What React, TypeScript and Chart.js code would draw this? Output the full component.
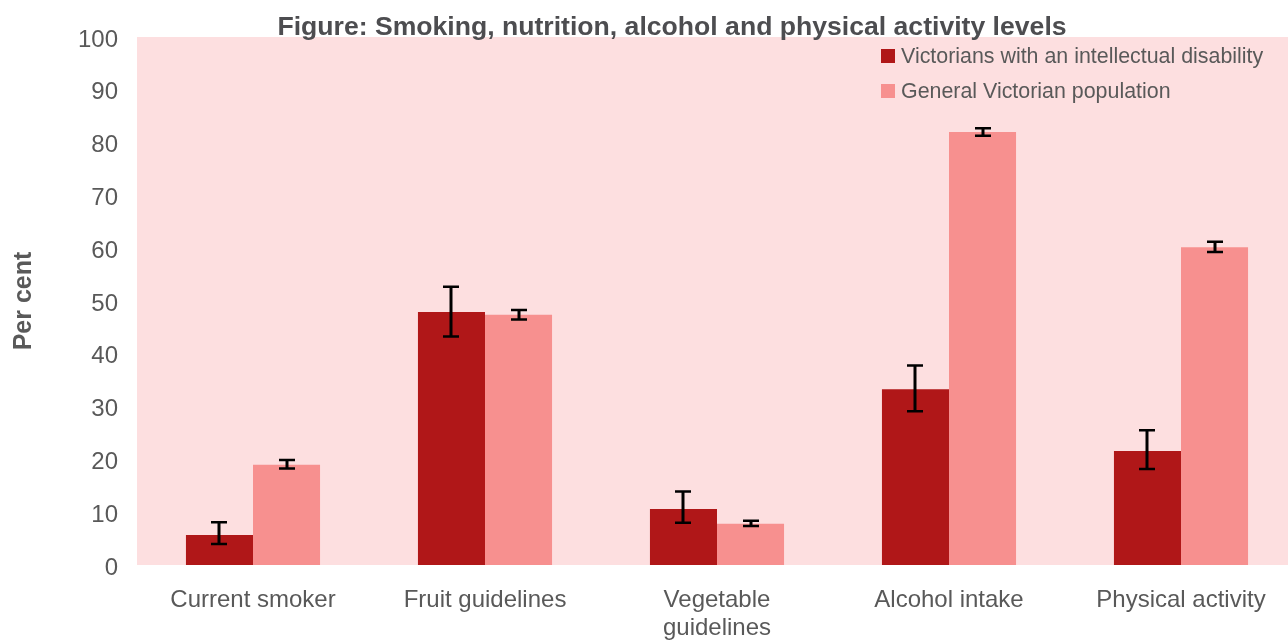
import React, { useEffect, useRef } from "react";
import { Chart, registerables } from "chart.js";

Chart.register(...registerables);

// ---- data ----
const chartTitle = "Figure: Smoking, nutrition, alcohol and physical activity levels";
const yAxisTitle = "Per cent";
const categories: (string | string[])[] = [
  "Current smoker",
  "Fruit guidelines",
  ["Vegetable", "guidelines"],
  "Alcohol intake",
  "Physical activity",
];
const seriesNames = [
  "Victorians with an intellectual disability",
  "General Victorian population",
];
const disabilityValues = [5.7, 47.9, 10.6, 33.3, 21.6];
const generalValues = [19.0, 47.4, 7.8, 82.0, 60.2];
const disabilityLow = [4.0, 43.3, 8.0, 29.1, 18.2];
const disabilityHigh = [8.1, 52.7, 13.9, 37.8, 25.5];
const generalLow = [18.3, 46.5, 7.4, 81.3, 59.3];
const generalHigh = [19.9, 48.3, 8.4, 82.7, 61.2];
const yMin = 0;
const yMax = 100;
const yStep = 10;

// ---- styles ----
const FONT = "'Liberation Sans', Arial, Helvetica, sans-serif";
const TEXT = "#595959";
const TITLE_TEXT = "#4D4D50";
const DARK = "#B01718";
const LIGHT = "#F7908F";
const PLOT_BG = "#FDDFE0";

const plotBgPlugin = {
  id: "plotBg",
  beforeDraw(chart: any) {
    const { ctx, chartArea } = chart;
    ctx.save();
    ctx.fillStyle = PLOT_BG;
    ctx.fillRect(chartArea.left, chartArea.top, chart.width - chartArea.left, chartArea.bottom - chartArea.top);
    ctx.restore();
  },
};

const errorBarPlugin = {
  id: "errorBars",
  afterDatasetsDraw(chart: any) {
    const { ctx } = chart;
    const y = chart.scales.y;
    const ranges = [
      [disabilityLow, disabilityHigh],
      [generalLow, generalHigh],
    ];
    ctx.save();
    ctx.strokeStyle = "#000000";
    chart.data.datasets.forEach((_ds: any, di: number) => {
      const meta = chart.getDatasetMeta(di);
      meta.data.forEach((bar: any, i: number) => {
        const x = Math.round(bar.x);
        const yl = y.getPixelForValue(ranges[di][0][i]);
        const yh = y.getPixelForValue(ranges[di][1][i]);
        ctx.lineWidth = 3;
        ctx.beginPath();
        ctx.moveTo(x, yl);
        ctx.lineTo(x, yh);
        ctx.stroke();
        ctx.lineWidth = 2.5;
        ctx.beginPath();
        ctx.moveTo(x - 8, yl);
        ctx.lineTo(x + 8, yl);
        ctx.moveTo(x - 8, yh);
        ctx.lineTo(x + 8, yh);
        ctx.stroke();
      });
    });
    ctx.restore();
  },
};

const titleLegendPlugin = {
  id: "titleLegend",
  afterDraw(chart: any) {
    const { ctx } = chart;
    ctx.save();
    // title
    ctx.font = `bold 26.6px ${FONT}`;
    ctx.fillStyle = TITLE_TEXT;
    ctx.textAlign = "center";
    ctx.textBaseline = "alphabetic";
    ctx.fillText(chartTitle, 672, 34.5);
    // legend
    ctx.font = `21.4px ${FONT}`;
    ctx.textAlign = "left";
    ctx.textBaseline = "middle";
    chart.data.datasets.forEach((ds: any, i: number) => {
      const yc = 56 + i * 35;
      ctx.fillStyle = ds.backgroundColor;
      ctx.fillRect(881, yc - 7, 14, 14);
      ctx.fillStyle = TEXT;
      ctx.fillText(ds.label, 901, yc + 1);
    });
    ctx.restore();
  },
};

export default function App() {
  const canvasRef = useRef<HTMLCanvasElement | null>(null);

  useEffect(() => {
    document.documentElement.style.overflow = "hidden";
    document.body.style.overflow = "hidden";
    const canvas = canvasRef.current;
    if (!canvas) return;
    const chart = new Chart(canvas, {
      type: "bar",
      data: {
        labels: categories as any,
        datasets: [
          {
            label: seriesNames[0],
            data: disabilityValues,
            backgroundColor: DARK,
            borderWidth: 0,
            categoryPercentage: 0.578,
            barPercentage: 1.0,
          },
          {
            label: seriesNames[1],
            data: generalValues,
            backgroundColor: LIGHT,
            borderWidth: 0,
            categoryPercentage: 0.578,
            barPercentage: 1.0,
          },
        ],
      },
      options: {
        responsive: false,
        animation: false,
        devicePixelRatio: 1,
        layout: { padding: { top: 37, left: 0, right: 0, bottom: 0 } },
        plugins: {
          legend: { display: false },
          title: { display: false },
          tooltip: { enabled: false },
        },
        scales: {
          x: {
            grid: { display: false, drawTicks: false },
            border: { display: false },
            ticks: {
              color: TEXT,
              font: { family: FONT, size: 24, lineHeight: 1.15 },
              padding: 22,
              maxRotation: 0,
              autoSkip: false,
            },
            afterFit: (scale: any) => {
              scale.height = 76;
            },
          },
          y: {
            min: yMin,
            max: yMax,
            grid: { display: false, drawTicks: false },
            border: { display: false },
            ticks: {
              stepSize: yStep,
              color: TEXT,
              font: { family: FONT, size: 24 },
              padding: 19,
              labelOffset: 3,
            },
            title: {
              display: true,
              text: yAxisTitle,
              color: TEXT,
              font: { family: FONT, size: 25, weight: "bold" },
              padding: { top: 9, bottom: 0 },
            },
            afterFit: (scale: any) => {
              scale.width = 137;
            },
          },
        },
      },
      plugins: [plotBgPlugin, errorBarPlugin, titleLegendPlugin],
    });
    return () => chart.destroy();
  }, []);

  return (
    <div style={{ position: "fixed", left: 0, top: 0, width: 1297, height: 641, background: "#ffffff" }}>
      <canvas ref={canvasRef} width={1297} height={641} />
    </div>
  );
}
